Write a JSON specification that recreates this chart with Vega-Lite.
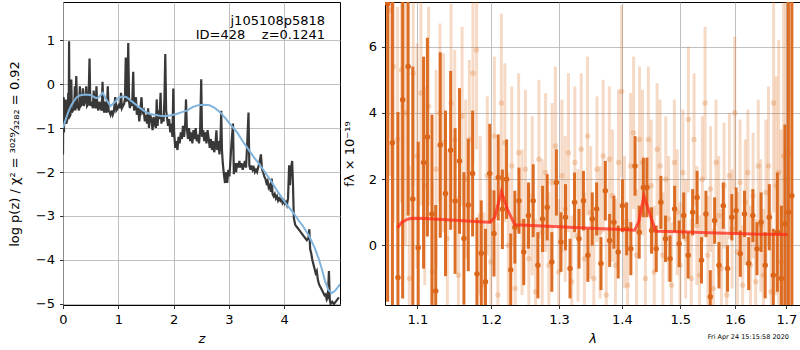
{
"$schema":"https://vega.github.io/schema/vega-lite/v6.json",
"background":"white",
"padding":{"left":7,"top":1,"right":0,"bottom":0},
"config":{
 "font":"DejaVu Sans",
 "view":{"stroke":"black","strokeWidth":1},
 "axis":{"grid":true,"gridColor":"#b0b0b0","gridWidth":0.8,"domain":false,"tickColor":"black","tickSize":3.5,"tickWidth":0.8,"labelFont":"DejaVu Sans","labelFontSize":13,"labelColor":"black","titleFont":"DejaVu Sans","titleFontSize":13,"titleFontWeight":"normal","titleColor":"black","labelPadding":5,"labelFlush":false,"labelOverlap":false},
 "axisX":{"titleFontStyle":"italic","titlePadding":6}
},
"datasets":{
 "pz":[{"z":0,"y":-1.6},{"z":0.005,"y":-0.35},{"z":0.012,"y":-0.3},{"z":0.018,"y":-1.1},{"z":0.025,"y":-0.4},{"z":0.032,"y":-0.9},{"z":0.04,"y":-0.85},{"z":0.05,"y":-0.35},{"z":0.058,"y":-0.9},{"z":0.07,"y":-0.85},{"z":0.085,"y":-0.75},{"z":0.095,"y":-0.2},{"z":0.103,"y":-0.8},{"z":0.11,"y":0.97},{"z":0.118,"y":-0.75},{"z":0.135,"y":-0.7},{"z":0.15,"y":0.1},{"z":0.16,"y":-0.65},{"z":0.18,"y":-0.6},{"z":0.2,"y":-0.55},{"z":0.215,"y":-0.05},{"z":0.225,"y":-0.6},{"z":0.24,"y":0.18},{"z":0.255,"y":-0.55},{"z":0.27,"y":-0.5},{"z":0.29,"y":-0.6},{"z":0.305,"y":-0.05},{"z":0.32,"y":-0.5},{"z":0.345,"y":-0.45},{"z":0.36,"y":-0.1},{"z":0.375,"y":-0.5},{"z":0.4,"y":-0.4},{"z":0.42,"y":-0.05},{"z":0.435,"y":-0.5},{"z":0.46,"y":-0.45},{"z":0.48,"y":0.58},{"z":0.495,"y":-0.5},{"z":0.52,"y":-0.4},{"z":0.54,"y":-0.55},{"z":0.555,"y":-0.15},{"z":0.57,"y":-0.5},{"z":0.59,"y":-0.55},{"z":0.605,"y":-0.05},{"z":0.62,"y":-0.5},{"z":0.64,"y":-0.6},{"z":0.66,"y":-0.4},{"z":0.68,"y":-0.55},{"z":0.7,"y":-0.6},{"z":0.715,"y":0.05},{"z":0.73,"y":-0.55},{"z":0.745,"y":-0.65},{"z":0.76,"y":-0.4},{"z":0.775,"y":-0.6},{"z":0.79,"y":-0.65},{"z":0.81,"y":-0.05},{"z":0.825,"y":-0.6},{"z":0.845,"y":-0.65},{"z":0.86,"y":-0.7},{"z":0.88,"y":-0.6},{"z":0.9,"y":-0.7},{"z":0.92,"y":-0.62},{"z":0.945,"y":-0.3},{"z":0.965,"y":-0.6},{"z":0.99,"y":-0.55},{"z":1.01,"y":-0.45},{"z":1.03,"y":-0.55},{"z":1.05,"y":-0.2},{"z":1.065,"y":-0.55},{"z":1.085,"y":-0.5},{"z":1.105,"y":-0.45},{"z":1.12,"y":-0.35},{"z":1.135,"y":0.6},{"z":1.15,"y":-0.4},{"z":1.165,"y":-0.3},{"z":1.18,"y":0.93},{"z":1.195,"y":-0.4},{"z":1.21,"y":-0.55},{"z":1.23,"y":-0.35},{"z":1.25,"y":-0.5},{"z":1.27,"y":0.28},{"z":1.285,"y":-0.6},{"z":1.3,"y":-0.55},{"z":1.32,"y":-0.3},{"z":1.335,"y":-0.7},{"z":1.36,"y":-0.55},{"z":1.38,"y":-0.85},{"z":1.4,"y":-0.55},{"z":1.42,"y":-0.3},{"z":1.435,"y":-0.65},{"z":1.46,"y":-0.6},{"z":1.48,"y":-0.85},{"z":1.5,"y":-0.7},{"z":1.52,"y":-0.9},{"z":1.54,"y":-0.55},{"z":1.555,"y":-1.0},{"z":1.575,"y":-0.7},{"z":1.6,"y":-0.8},{"z":1.62,"y":-1.05},{"z":1.64,"y":-0.75},{"z":1.66,"y":-0.9},{"z":1.68,"y":-1.0},{"z":1.695,"y":-0.35},{"z":1.71,"y":-0.95},{"z":1.73,"y":-0.6},{"z":1.745,"y":-0.8},{"z":1.765,"y":-0.2},{"z":1.78,"y":-0.9},{"z":1.8,"y":-0.75},{"z":1.82,"y":-0.85},{"z":1.835,"y":-0.3},{"z":1.85,"y":0.68},{"z":1.865,"y":-0.6},{"z":1.88,"y":-0.75},{"z":1.9,"y":-0.95},{"z":1.92,"y":-0.8},{"z":1.94,"y":-1.1},{"z":1.96,"y":-0.9},{"z":1.98,"y":-1.2},{"z":1.995,"y":-0.1},{"z":2.01,"y":-1.1},{"z":2.03,"y":-1.45},{"z":2.05,"y":-1.3},{"z":2.07,"y":-1.5},{"z":2.09,"y":-1.2},{"z":2.11,"y":-1.35},{"z":2.13,"y":-1.1},{"z":2.15,"y":-1.25},{"z":2.17,"y":-0.95},{"z":2.19,"y":-1.2},{"z":2.21,"y":-0.9},{"z":2.225,"y":-0.35},{"z":2.24,"y":-1.0},{"z":2.26,"y":-1.25},{"z":2.28,"y":-1.0},{"z":2.3,"y":-1.3},{"z":2.32,"y":-1.1},{"z":2.34,"y":-1.35},{"z":2.36,"y":-1.05},{"z":2.38,"y":-1.25},{"z":2.4,"y":-1.0},{"z":2.42,"y":-1.3},{"z":2.44,"y":-1.15},{"z":2.46,"y":-1.35},{"z":2.48,"y":-1.05},{"z":2.5,"y":0.11},{"z":2.515,"y":-1.2},{"z":2.535,"y":-1.05},{"z":2.555,"y":-1.3},{"z":2.575,"y":-1.1},{"z":2.595,"y":-1.35},{"z":2.615,"y":-1.05},{"z":2.635,"y":-1.25},{"z":2.655,"y":-1.45},{"z":2.675,"y":-1.25},{"z":2.695,"y":-1.5},{"z":2.715,"y":-1.3},{"z":2.735,"y":-1.55},{"z":2.755,"y":-1.4},{"z":2.775,"y":-1.05},{"z":2.79,"y":-1.5},{"z":2.81,"y":-1.3},{"z":2.83,"y":-1.6},{"z":2.85,"y":-1.2},{"z":2.862,"y":-0.61},{"z":2.875,"y":-1.5},{"z":2.89,"y":-1.8},{"z":2.91,"y":-2.05},{"z":2.93,"y":-2.25},{"z":2.95,"y":-2.0},{"z":2.97,"y":-2.25},{"z":2.99,"y":-1.95},{"z":3.01,"y":-2.1},{"z":3.03,"y":-1.7},{"z":3.05,"y":-1.3},{"z":3.075,"y":-0.9},{"z":3.09,"y":-2.05},{"z":3.11,"y":-1.8},{"z":3.13,"y":-2.0},{"z":3.15,"y":-1.8},{"z":3.17,"y":-1.9},{"z":3.19,"y":-1.75},{"z":3.21,"y":-1.9},{"z":3.23,"y":-1.8},{"z":3.25,"y":-1.95},{"z":3.27,"y":-1.85},{"z":3.29,"y":-1.75},{"z":3.31,"y":-1.9},{"z":3.33,"y":-1.4},{"z":3.355,"y":-0.65},{"z":3.37,"y":-1.85},{"z":3.39,"y":-1.95},{"z":3.41,"y":-1.85},{"z":3.43,"y":-1.95},{"z":3.45,"y":-1.9},{"z":3.47,"y":-2.0},{"z":3.49,"y":-1.95},{"z":3.51,"y":-2.0},{"z":3.53,"y":-1.9},{"z":3.55,"y":-1.8},{"z":3.58,"y":-1.6},{"z":3.6,"y":-1.95},{"z":3.62,"y":-2.0},{"z":3.64,"y":-2.1},{"z":3.66,"y":-2.15},{"z":3.68,"y":-2.25},{"z":3.7,"y":-2.2},{"z":3.72,"y":-2.35},{"z":3.74,"y":-2.3},{"z":3.76,"y":-2.45},{"z":3.775,"y":-2.15},{"z":3.79,"y":-2.5},{"z":3.81,"y":-2.55},{"z":3.83,"y":-2.5},{"z":3.85,"y":-2.6},{"z":3.87,"y":-2.55},{"z":3.89,"y":-2.65},{"z":3.91,"y":-2.6},{"z":3.93,"y":-2.65},{"z":3.95,"y":-2.6},{"z":3.97,"y":-2.7},{"z":3.99,"y":-2.65},{"z":4.01,"y":-2.72},{"z":4.03,"y":-2.68},{"z":4.05,"y":-2.75},{"z":4.07,"y":-2.6},{"z":4.09,"y":-1.85},{"z":4.105,"y":-2.3},{"z":4.12,"y":-1.95},{"z":4.145,"y":-1.75},{"z":4.16,"y":-2.3},{"z":4.175,"y":-3.05},{"z":4.2,"y":-3.2},{"z":4.23,"y":-3.25},{"z":4.26,"y":-3.3},{"z":4.29,"y":-3.35},{"z":4.32,"y":-3.4},{"z":4.35,"y":-3.45},{"z":4.38,"y":-3.5},{"z":4.41,"y":-3.55},{"z":4.44,"y":-3.5},{"z":4.455,"y":-3.3},{"z":4.47,"y":-3.75},{"z":4.49,"y":-3.85},{"z":4.51,"y":-4.0},{"z":4.53,"y":-4.1},{"z":4.55,"y":-4.2},{"z":4.57,"y":-4.3},{"z":4.59,"y":-4.25},{"z":4.61,"y":-4.45},{"z":4.63,"y":-4.55},{"z":4.65,"y":-4.6},{"z":4.67,"y":-4.65},{"z":4.69,"y":-4.7},{"z":4.71,"y":-4.75},{"z":4.73,"y":-4.8},{"z":4.75,"y":-4.78},{"z":4.77,"y":-4.9},{"z":4.79,"y":-4.85},{"z":4.81,"y":-4.25},{"z":4.825,"y":-4.9},{"z":4.84,"y":-5.0},{"z":4.87,"y":-4.95},{"z":4.9,"y":-5.0},{"z":4.93,"y":-4.95},{"z":4.96,"y":-4.9},{"z":4.99,"y":-4.85}],
 "sm":[{"z":0,"y":-1.0},{"z":0.05,"y":-0.8},{"z":0.1,"y":-0.62},{"z":0.15,"y":-0.48},{"z":0.2,"y":-0.38},{"z":0.25,"y":-0.3},{"z":0.3,"y":-0.26},{"z":0.4,"y":-0.24},{"z":0.5,"y":-0.25},{"z":0.6,"y":-0.32},{"z":0.65,"y":-0.3},{"z":0.72,"y":-0.2},{"z":0.78,"y":-0.35},{"z":0.86,"y":-0.5},{"z":0.93,"y":-0.42},{"z":1.0,"y":-0.32},{"z":1.08,"y":-0.28},{"z":1.15,"y":-0.3},{"z":1.25,"y":-0.4},{"z":1.35,"y":-0.5},{"z":1.45,"y":-0.6},{"z":1.55,"y":-0.67},{"z":1.65,"y":-0.7},{"z":1.75,"y":-0.72},{"z":1.85,"y":-0.73},{"z":1.95,"y":-0.71},{"z":2.05,"y":-0.68},{"z":2.15,"y":-0.64},{"z":2.25,"y":-0.6},{"z":2.35,"y":-0.52},{"z":2.45,"y":-0.48},{"z":2.55,"y":-0.47},{"z":2.65,"y":-0.48},{"z":2.75,"y":-0.55},{"z":2.85,"y":-0.65},{"z":2.95,"y":-0.8},{"z":3.05,"y":-0.95},{"z":3.15,"y":-1.1},{"z":3.25,"y":-1.3},{"z":3.35,"y":-1.48},{"z":3.45,"y":-1.66},{"z":3.55,"y":-1.82},{"z":3.65,"y":-2.0},{"z":3.75,"y":-2.18},{"z":3.85,"y":-2.38},{"z":3.95,"y":-2.57},{"z":4.05,"y":-2.75},{"z":4.15,"y":-2.9},{"z":4.25,"y":-3.08},{"z":4.35,"y":-3.25},{"z":4.45,"y":-3.45},{"z":4.55,"y":-3.72},{"z":4.62,"y":-3.95},{"z":4.68,"y":-4.2},{"z":4.74,"y":-4.48},{"z":4.8,"y":-4.68},{"z":4.86,"y":-4.75},{"z":4.92,"y":-4.7},{"z":4.97,"y":-4.62},{"z":5.01,"y":-4.55}],
 "ann":[{"z":4.74,"y":1.43,"t":"j105108p5818"},{"z":4.74,"y":1.11,"t":"ID=428\u00a0\u00a0\u00a0\u00a0z=0.1241"}],
 "dk":[{"l":1.062,"f":7.3,"e":9},{"l":1.068,"f":3.1,"e":6},{"l":1.075,"f":-0.97,"e":5},{"l":1.081,"f":4.4,"e":6},{"l":1.088,"f":5.4,"e":4.5},{"l":1.094,"f":1.4,"e":4},{"l":1.101,"f":-0.07,"e":3.2},{"l":1.108,"f":2.5,"e":3.2},{"l":1.113,"f":3.27,"e":3},{"l":1.119,"f":0.95,"e":3},{"l":1.124,"f":-1.38,"e":2.6},{"l":1.13,"f":3.03,"e":2.8},{"l":1.137,"f":1.57,"e":2.5},{"l":1.144,"f":2.87,"e":2.4},{"l":1.15,"f":1.34,"e":2.2},{"l":1.156,"f":2.55,"e":2.2},{"l":1.162,"f":0.21,"e":2.0},{"l":1.168,"f":1.22,"e":2.0},{"l":1.174,"f":2.17,"e":1.9},{"l":1.18,"f":-0.86,"e":1.7},{"l":1.186,"f":-0.24,"e":1.6},{"l":1.192,"f":-1.1,"e":1.6},{"l":1.198,"f":2.17,"e":1.5},{"l":1.204,"f":0.36,"e":1.3},{"l":1.21,"f":2.05,"e":1.3},{"l":1.216,"f":1.09,"e":1.2},{"l":1.222,"f":2.0,"e":1.2},{"l":1.228,"f":-0.74,"e":1.1},{"l":1.234,"f":0.55,"e":1.1},{"l":1.24,"f":1.35,"e":1.0},{"l":1.247,"f":-0.2,"e":1.0},{"l":1.254,"f":0.9,"e":1.0},{"l":1.261,"f":1.35,"e":1.1},{"l":1.268,"f":-0.6,"e":1.0},{"l":1.275,"f":0.8,"e":1.0},{"l":1.282,"f":1.15,"e":1.0},{"l":1.289,"f":-0.5,"e":0.9},{"l":1.296,"f":1.9,"e":1.0},{"l":1.303,"f":0.1,"e":0.9},{"l":1.31,"f":0.85,"e":1.0},{"l":1.317,"f":-0.7,"e":0.9},{"l":1.324,"f":1.3,"e":0.9},{"l":1.331,"f":0.2,"e":0.9},{"l":1.338,"f":1.35,"e":0.9},{"l":1.345,"f":-0.3,"e":0.8},{"l":1.352,"f":0.8,"e":0.8},{"l":1.359,"f":1.1,"e":0.8},{"l":1.366,"f":-0.55,"e":0.8},{"l":1.373,"f":1.65,"e":0.9},{"l":1.38,"f":0.15,"e":0.8},{"l":1.387,"f":0.7,"e":0.8},{"l":1.394,"f":-0.2,"e":0.8},{"l":1.401,"f":1.2,"e":0.8},{"l":1.408,"f":0.5,"e":0.8},{"l":1.415,"f":-0.1,"e":0.8},{"l":1.422,"f":2.4,"e":0.9},{"l":1.429,"f":0.4,"e":0.8},{"l":1.436,"f":1.75,"e":0.9},{"l":1.442,"f":1.75,"e":0.9},{"l":1.45,"f":0.45,"e":0.7},{"l":1.458,"f":-0.1,"e":0.7},{"l":1.466,"f":1.3,"e":0.8},{"l":1.474,"f":0.2,"e":0.7},{"l":1.482,"f":-0.4,"e":0.7},{"l":1.49,"f":1.1,"e":0.7},{"l":1.498,"f":0.05,"e":0.7},{"l":1.506,"f":0.9,"e":0.7},{"l":1.514,"f":-0.3,"e":0.7},{"l":1.522,"f":1.0,"e":0.7},{"l":1.53,"f":1.45,"e":0.8},{"l":1.538,"f":-0.45,"e":0.7},{"l":1.546,"f":0.95,"e":0.7},{"l":1.554,"f":-1.55,"e":0.8},{"l":1.562,"f":0.75,"e":0.7},{"l":1.57,"f":-0.6,"e":0.7},{"l":1.578,"f":1.2,"e":0.7},{"l":1.586,"f":-0.7,"e":0.7},{"l":1.594,"f":0.85,"e":0.7},{"l":1.602,"f":1.05,"e":0.7},{"l":1.61,"f":-0.25,"e":0.7},{"l":1.618,"f":0.95,"e":0.7},{"l":1.626,"f":-0.55,"e":0.8},{"l":1.634,"f":0.9,"e":0.8},{"l":1.642,"f":-0.1,"e":0.8},{"l":1.65,"f":0.7,"e":0.9},{"l":1.658,"f":-0.6,"e":1.0},{"l":1.666,"f":0.85,"e":1.0},{"l":1.674,"f":-0.9,"e":1.4},{"l":1.682,"f":0.4,"e":1.8},{"l":1.69,"f":-1.0,"e":2.2},{"l":1.697,"f":0.65,"e":3},{"l":1.704,"f":1.0,"e":8},{"l":1.711,"f":1.5,"e":9}],
 "lt":[{"l":1.0645,"f":7.1,"e":5},{"l":1.0695,"f":5.4,"e":4.7},{"l":1.0745,"f":3.2,"e":4},{"l":1.0795,"f":5.3,"e":4},{"l":1.0845,"f":4.0,"e":4},{"l":1.0895,"f":-1.0,"e":3.4},{"l":1.0945,"f":5.2,"e":3.4},{"l":1.0995,"f":2.7,"e":3.4},{"l":1.1045,"f":4.6,"e":3.4},{"l":1.1095,"f":1.8,"e":3},{"l":1.1145,"f":4.2,"e":3},{"l":1.1195,"f":-0.8,"e":2.7},{"l":1.1245,"f":2.3,"e":3},{"l":1.1295,"f":4.0,"e":2.7},{"l":1.1345,"f":3.1,"e":2.7},{"l":1.1395,"f":0.2,"e":2.7},{"l":1.1445,"f":4.3,"e":3},{"l":1.1495,"f":3.2,"e":2.7},{"l":1.1545,"f":-0.9,"e":2.4},{"l":1.1595,"f":3.9,"e":2.7},{"l":1.1645,"f":2.0,"e":2.4},{"l":1.1695,"f":3.2,"e":2.4},{"l":1.1745,"f":5.2,"e":2.7},{"l":1.1795,"f":5.9,"e":3},{"l":1.1845,"f":0.9,"e":2.4},{"l":1.1895,"f":-1.2,"e":2.2},{"l":1.1945,"f":2.1,"e":2.4},{"l":1.1995,"f":-0.5,"e":2.2},{"l":1.2045,"f":3.3,"e":2.4},{"l":1.2095,"f":-1.5,"e":2.2},{"l":1.2145,"f":4.3,"e":2.7},{"l":1.2195,"f":3.1,"e":2.4},{"l":1.2245,"f":0.0,"e":2.2},{"l":1.2295,"f":2.4,"e":2.4},{"l":1.2345,"f":-1.3,"e":2.2},{"l":1.2395,"f":2.8,"e":2.4},{"l":1.2445,"f":0.7,"e":2.2},{"l":1.2495,"f":2.3,"e":2.4},{"l":1.2545,"f":-0.4,"e":2.2},{"l":1.2595,"f":1.5,"e":2.4},{"l":1.2645,"f":-1.4,"e":2.2},{"l":1.2695,"f":2.6,"e":2.4},{"l":1.2745,"f":0.4,"e":2.2},{"l":1.2795,"f":2.2,"e":2.4},{"l":1.2845,"f":-0.6,"e":2.2},{"l":1.2895,"f":1.9,"e":2.4},{"l":1.2945,"f":3.0,"e":2.4},{"l":1.2995,"f":-0.8,"e":2.2},{"l":1.3045,"f":2.1,"e":2.3},{"l":1.3095,"f":1.1,"e":2.2},{"l":1.3145,"f":2.8,"e":2.4},{"l":1.3195,"f":-1.1,"e":2},{"l":1.3245,"f":2.5,"e":2.3},{"l":1.3295,"f":0.3,"e":2},{"l":1.3345,"f":2.9,"e":2.3},{"l":1.3395,"f":-0.4,"e":2},{"l":1.3445,"f":3.3,"e":2.4},{"l":1.3495,"f":1.0,"e":2},{"l":1.3545,"f":-1.0,"e":2},{"l":1.3595,"f":2.3,"e":2.2},{"l":1.3645,"f":0.4,"e":2},{"l":1.3695,"f":2.7,"e":2.3},{"l":1.3745,"f":-1.5,"e":2},{"l":1.3795,"f":2.6,"e":2.2},{"l":1.3845,"f":1.5,"e":2},{"l":1.3895,"f":-0.6,"e":2},{"l":1.3945,"f":2.5,"e":2.2},{"l":1.3995,"f":4.65,"e":2.6},{"l":1.4045,"f":0.7,"e":2},{"l":1.4095,"f":-1.2,"e":2},{"l":1.4145,"f":2.4,"e":2.2},{"l":1.4195,"f":3.4,"e":2.3},{"l":1.4245,"f":-0.3,"e":2},{"l":1.4295,"f":3.2,"e":2.2},{"l":1.4345,"f":2.5,"e":2.2},{"l":1.4395,"f":-1.0,"e":2},{"l":1.4445,"f":3.2,"e":2.2},{"l":1.4495,"f":1.8,"e":2},{"l":1.4545,"f":-0.8,"e":2},{"l":1.4595,"f":2.9,"e":2},{"l":1.4645,"f":2.4,"e":2},{"l":1.4695,"f":-0.3,"e":1.9},{"l":1.4745,"f":2.0,"e":1.9},{"l":1.4795,"f":0.8,"e":1.9},{"l":1.4845,"f":-1.2,"e":1.9},{"l":1.4895,"f":2.5,"e":1.9},{"l":1.4945,"f":1.0,"e":1.9},{"l":1.4995,"f":-0.6,"e":1.9},{"l":1.5045,"f":2.2,"e":1.9},{"l":1.5095,"f":0.2,"e":1.8},{"l":1.5145,"f":3.8,"e":2.2},{"l":1.5195,"f":-1.0,"e":1.8},{"l":1.5245,"f":3.2,"e":2},{"l":1.5295,"f":0.6,"e":1.8},{"l":1.5345,"f":-0.9,"e":1.8},{"l":1.5395,"f":2.0,"e":1.9},{"l":1.5445,"f":4.3,"e":2.3},{"l":1.5495,"f":-0.3,"e":1.8},{"l":1.5545,"f":1.7,"e":1.9},{"l":1.5595,"f":-1.3,"e":1.8},{"l":1.5645,"f":2.5,"e":1.9},{"l":1.5695,"f":0.9,"e":1.8},{"l":1.5745,"f":-0.7,"e":1.8},{"l":1.5795,"f":1.8,"e":1.9},{"l":1.5845,"f":-1.5,"e":1.8},{"l":1.5895,"f":2.1,"e":1.9},{"l":1.5945,"f":0.5,"e":1.8},{"l":1.5995,"f":4.0,"e":2.3},{"l":1.6045,"f":-0.2,"e":1.8},{"l":1.6095,"f":1.9,"e":1.9},{"l":1.6145,"f":-1.2,"e":1.8},{"l":1.6195,"f":1.3,"e":1.9},{"l":1.6245,"f":2.2,"e":1.9},{"l":1.6295,"f":-0.6,"e":1.8},{"l":1.6345,"f":1.5,"e":1.9},{"l":1.6395,"f":-1.1,"e":1.9},{"l":1.6445,"f":2.4,"e":2},{"l":1.6495,"f":0.6,"e":2},{"l":1.6545,"f":-0.9,"e":2},{"l":1.6595,"f":1.6,"e":2.2},{"l":1.6645,"f":2.4,"e":2.4},{"l":1.6695,"f":-1.4,"e":2.4},{"l":1.6745,"f":4.3,"e":3.3},{"l":1.6795,"f":1.8,"e":3.3},{"l":1.6845,"f":2.2,"e":4},{"l":1.6895,"f":-0.5,"e":4},{"l":1.6945,"f":2.7,"e":5},{"l":1.6995,"f":2.0,"e":6},{"l":1.7045,"f":2.8,"e":7}],
 "md":[{"l":1.0743,"f":0.53},{"l":1.08,"f":0.7},{"l":1.088,"f":0.8},{"l":1.095,"f":0.82},{"l":1.11,"f":0.81},{"l":1.15,"f":0.76},{"l":1.19,"f":0.71},{"l":1.199,"f":0.7},{"l":1.205,"f":0.85},{"l":1.2146,"f":1.62},{"l":1.224,"f":1.05},{"l":1.234,"f":0.62},{"l":1.3,"f":0.56},{"l":1.35,"f":0.52},{"l":1.4,"f":0.48},{"l":1.4215,"f":0.46},{"l":1.428,"f":0.7},{"l":1.437,"f":1.49},{"l":1.447,"f":0.95},{"l":1.457,"f":0.43},{"l":1.5,"f":0.41},{"l":1.55,"f":0.38},{"l":1.6,"f":0.36},{"l":1.65,"f":0.34},{"l":1.702,"f":0.33}]
},
"hconcat":[
 {
  "width":277,"height":303,
  "encoding":{
   "x":{"field":"z","type":"quantitative","scale":{"domain":[0,5.01],"nice":false,"zero":false},"axis":{"values":[0,1,2,3,4],"title":"z"}},
   "y":{"field":"y","type":"quantitative","scale":{"domain":[-5.023,1.864],"nice":false,"zero":false},"axis":{"values":[-5,-4,-3,-2,-1,0,1],"title":"log p(z) / χ² = ³⁰²⁹⁄₃₂₈₂ = 0.92","titlePadding":14}}
  },
  "layer":[
   {"data":{"name":"pz"},"mark":{"type":"line","color":"#383838","strokeWidth":2.2,"clip":true}},
   {"data":{"name":"sm"},"mark":{"type":"line","color":"#80b3dc","strokeWidth":2,"clip":true}},
   {"data":{"name":"ann"},"mark":{"type":"text","align":"right","baseline":"middle","fontSize":13,"font":"DejaVu Sans","color":"black"},"encoding":{"text":{"field":"t"}}}
  ]
 },
 {
  "width":415,"height":303,
  "title":{"text":"Fri Apr 24 15:15:58 2020","orient":"bottom","anchor":"end","frame":"bounds","offset":-12,"dx":-11,"fontSize":6.5,"fontWeight":"normal","font":"DejaVu Sans","color":"black"},
  "layer":[
   {
    "encoding":{
     "x":{"field":"l","type":"quantitative","scale":{"type":"log","domain":[1.0587,1.7275],"nice":false,"zero":false},"axis":{"values":[1.1,1.2,1.3,1.4,1.5,1.6,1.7],"format":".1f","title":"λ"}},
     "y":{"field":"f","type":"quantitative","scale":{"domain":[-1.8,7.35],"nice":false,"zero":false,"clamp":true},"axis":{"values":[0,2,4,6],"title":"fλ × 10⁻¹⁹","titlePadding":12}}
    },
    "layer":[
     {"data":{"name":"lt"},"mark":{"type":"errorbar","color":"#dd6b1a","opacity":0.25,"thickness":3,"clip":true},"encoding":{"yError":{"field":"e"}}},
     {"data":{"name":"lt"},"mark":{"type":"circle","color":"#dd6b1a","opacity":0.25,"size":30,"clip":true}},
     {"data":{"name":"dk"},"mark":{"type":"errorbar","color":"#db661a","opacity":0.95,"thickness":3,"clip":true},"encoding":{"yError":{"field":"e"}}},
     {"data":{"name":"dk"},"mark":{"type":"circle","color":"#db661a","opacity":1,"size":30,"clip":true}},
     {"data":{"name":"md"},"mark":{"type":"line","color":"#ff2a1a","opacity":0.75,"strokeWidth":3,"clip":true}}
    ]
   },
   {"mark":{"type":"rule","color":"black","strokeWidth":2,"strokeDash":[2,3]},"encoding":{"y":{"datum":0}}}
  ]
 }
],
"spacing":45,
"bounds":"flush"
}
